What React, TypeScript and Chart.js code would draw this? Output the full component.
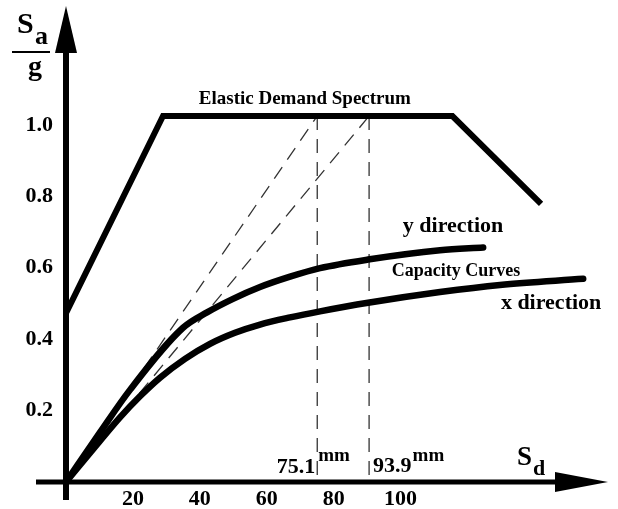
import { useEffect, useRef } from 'react';
import { Chart, registerables } from 'chart.js';

Chart.register(...registerables);

// ---- data ----
const spectrumX = [0, 29, 115.5, 142];
const spectrumY = [0.473, 1.025, 1.025, 0.779];

const yDirX = [0, 10.16, 19.13, 34.98, 42.15, 49.93, 58.0, 66.97, 75.93, 90.28, 111.8, 124.7];
const yDirY = [0, 0.139, 0.258, 0.432, 0.475, 0.513, 0.546, 0.575, 0.599, 0.623, 0.649, 0.657];

const xDirX = [0, 10.16, 16.14, 22.12, 28.1, 35.58, 43.05, 50.52, 58.0, 66.97, 75.93, 90.28, 111.8, 129.7, 154.6];
const xDirY = [0, 0.115, 0.181, 0.24, 0.292, 0.345, 0.387, 0.418, 0.441, 0.461, 0.478, 0.502, 0.532, 0.552, 0.569];

const markerX = [75.1, 90.6];
const markerLabels = ['75.1', '93.9'];

const xTicks = [20, 40, 60, 80, 100];
const yTicks = [0.2, 0.4, 0.6, 0.8, 1.0];
const yTickLabels = ['0.2', '0.4', '0.6', '0.8', '1.0'];

const FONT = "'Liberation Serif', 'Times New Roman', serif";

const pts = (xs: number[], ys: number[]) => xs.map((v, i) => ({ x: v, y: ys[i] }));

const decor = {
  id: 'decor',
  afterDatasetsDraw(chart: any) {
    const { ctx, scales, chartArea } = chart;
    const xs = scales.x;
    const ys = scales.y;
    const x0 = xs.getPixelForValue(0);
    const y0 = ys.getPixelForValue(0);
    ctx.save();
    ctx.fillStyle = '#000';
    ctx.strokeStyle = '#000';

    // axes
    const xTip = chartArea.right - 10;
    const xBase = xTip - 53;
    ctx.lineWidth = 5;
    ctx.beginPath();
    ctx.moveTo(x0 - 30, y0);
    ctx.lineTo(xBase + 2, y0);
    ctx.stroke();
    const yTip = chartArea.top + 6;
    const yBase = yTip + 47;
    ctx.lineWidth = 6;
    ctx.beginPath();
    ctx.moveTo(x0, y0 + 18);
    ctx.lineTo(x0, yBase - 2);
    ctx.stroke();

    // arrow heads
    ctx.beginPath();
    ctx.moveTo(x0, yTip);
    ctx.lineTo(x0 + 11, yBase);
    ctx.lineTo(x0 - 11, yBase);
    ctx.closePath();
    ctx.fill();
    ctx.beginPath();
    ctx.moveTo(xTip, y0);
    ctx.lineTo(xBase, y0 - 10);
    ctx.lineTo(xBase, y0 + 10);
    ctx.closePath();
    ctx.fill();

    // axis titles
    ctx.textBaseline = 'alphabetic';
    ctx.textAlign = 'left';
    ctx.font = `bold 30px ${FONT}`;
    ctx.fillText('S', x0 - 49, chartArea.top + 33);
    ctx.font = `bold 26px ${FONT}`;
    ctx.fillText('a', x0 - 31, chartArea.top + 44);
    ctx.fillRect(x0 - 54, chartArea.top + 51, 38, 2);
    ctx.font = `bold 28px ${FONT}`;
    ctx.fillText('g', x0 - 38, chartArea.top + 75);

    ctx.font = `bold 27px ${FONT}`;
    ctx.fillText('S', xBase - 38, y0 - 17);
    ctx.font = `bold 22px ${FONT}`;
    ctx.fillText('d', xBase - 22, y0 - 7);

    // annotations
    ctx.textBaseline = 'middle';
    ctx.textAlign = 'center';
    ctx.font = `bold 19px ${FONT}`;
    ctx.fillText('Elastic Demand Spectrum', xs.getPixelForValue(71.4), ys.getPixelForValue(1.073));
    ctx.font = `bold 22px ${FONT}`;
    ctx.fillText('y direction', xs.getPixelForValue(115.7), ys.getPixelForValue(0.717));
    ctx.fillText('x direction', xs.getPixelForValue(145), ys.getPixelForValue(0.501));
    ctx.font = `bold 18px ${FONT}`;
    ctx.fillText('Capacity Curves', xs.getPixelForValue(116.6), ys.getPixelForValue(0.591));

    // marker labels
    markerX.forEach((m, i) => {
      const px = xs.getPixelForValue(m);
      ctx.font = `bold 22px ${FONT}`;
      ctx.textBaseline = 'middle';
      let mmX: number;
      if (i === 0) {
        ctx.textAlign = 'right';
        ctx.fillText(markerLabels[i], px - 2, y0 - 15);
        mmX = px + 1;
      } else {
        ctx.textAlign = 'left';
        ctx.fillText(markerLabels[i], px + 4, y0 - 16);
        mmX = px + 4 + ctx.measureText(markerLabels[i]).width + 1;
      }
      ctx.textAlign = 'left';
      ctx.font = `bold 19px ${FONT}`;
      ctx.fillText('mm', mmX, y0 - 26);
    });
    ctx.restore();
  },
};

export default function App() {
  const ref = useRef<HTMLCanvasElement>(null);
  useEffect(() => {
    const canvas = ref.current!;
    const plateau = spectrumY[1];
    const thick = { borderColor: '#000', borderWidth: 6, pointRadius: 0, fill: false, clip: false };
    const dashed = { borderColor: '#333', borderWidth: 1.3, borderDash: [14, 9], pointRadius: 0, fill: false };
    const datasets: any[] = [
      { ...thick, label: 'Elastic Demand Spectrum', data: pts(spectrumX, spectrumY), tension: 0, borderJoinStyle: 'miter', borderCapStyle: 'butt' },
      { ...thick, borderWidth: 6.5, label: 'y direction', data: pts(yDirX, yDirY), cubicInterpolationMode: 'monotone', borderCapStyle: 'round' },
      { ...thick, borderWidth: 6.5, label: 'x direction', data: pts(xDirX, xDirY), cubicInterpolationMode: 'monotone', borderCapStyle: 'round' },
      ...markerX.flatMap((m) => [
        { ...dashed, label: 'tangent', data: [{ x: 0, y: 0 }, { x: m, y: plateau }] },
        { ...dashed, label: 'marker', data: [{ x: m, y: plateau }, { x: m, y: 0 }] },
      ]),
    ];
    const tickFont = { family: FONT, size: 22, weight: 'bold' as const };
    const chart = new Chart(canvas, {
      type: 'line',
      data: { datasets },
      options: {
        animation: false,
        responsive: false,
        layout: { padding: 0 },
        plugins: { legend: { display: false }, tooltip: { enabled: false } },
        scales: {
          x: {
            type: 'linear',
            min: 0,
            max: 165,
            grid: { display: false, drawTicks: false },
            border: { display: false },
            afterBuildTicks: (s: any) => {
              s.ticks = xTicks.map((v) => ({ value: v }));
            },
            afterFit: (s: any) => {
              s.height = 27;
              s.paddingLeft = 0;
              s.paddingRight = 0;
            },
            ticks: { padding: 4, color: '#000', font: tickFont, maxRotation: 0, autoSkip: false, callback: (v: any) => String(v) },
          },
          y: {
            type: 'linear',
            min: 0,
            max: 1.35,
            grid: { display: false, drawTicks: false },
            border: { display: false },
            afterBuildTicks: (s: any) => {
              s.ticks = yTicks.map((v) => ({ value: v }));
            },
            afterFit: (s: any) => {
              s.width = 66;
              s.paddingTop = 0;
              s.paddingBottom = 0;
            },
            ticks: { padding: 13, color: '#000', font: tickFont, autoSkip: false, callback: (_v: any, i: number) => yTickLabels[i] },
          },
        },
      } as any,
      plugins: [decor],
    });
    return () => chart.destroy();
  }, []);
  return (
    <div style={{ position: 'fixed', left: 0, top: 0, width: 618, height: 509, background: '#fff' }}>
      <canvas ref={ref} width={618} height={509} />
    </div>
  );
}
